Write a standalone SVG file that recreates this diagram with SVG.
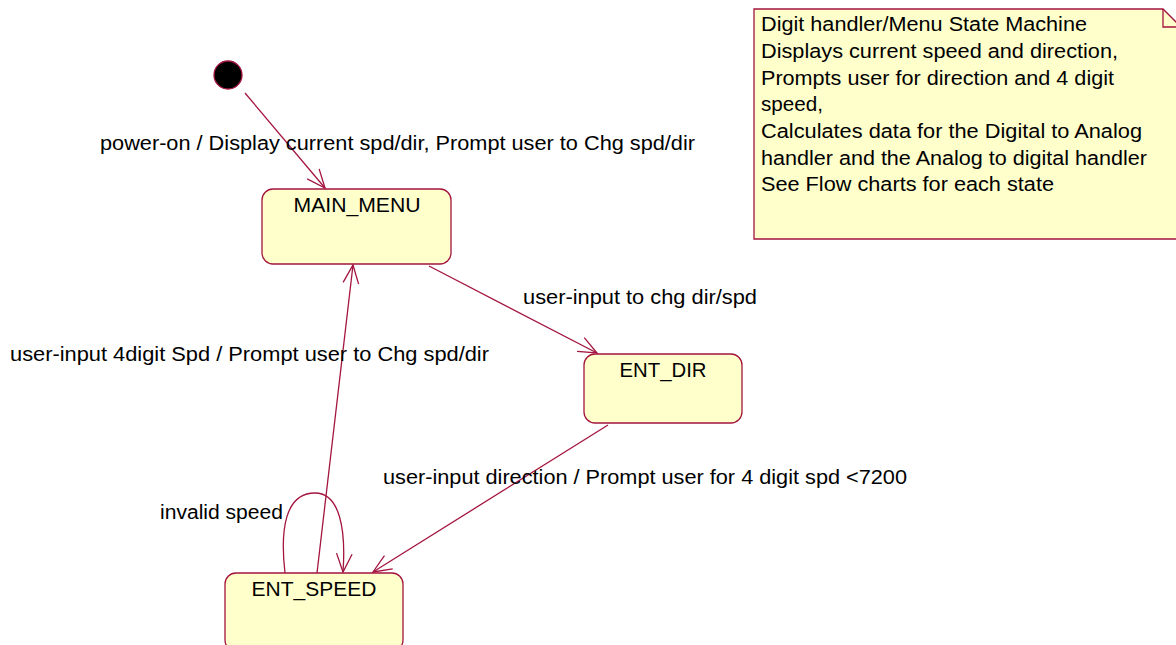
<svg xmlns="http://www.w3.org/2000/svg" width="1176" height="645" viewBox="0 0 1176 645">
<style>
.st{fill:#FFFFCC;stroke:#A3153F;stroke-width:1.3}
.ln{fill:none;stroke:#A3153F;stroke-width:1.3}
text{font-family:"Liberation Sans",Arial,sans-serif;font-size:20px;fill:#000}
.c{text-anchor:middle}
</style>
<defs>
<marker id="arr" markerUnits="userSpaceOnUse" markerWidth="22" markerHeight="18" refX="19" refY="9" orient="auto">
<path d="M0.6,1.2 L19,9 L0.6,16.8" fill="none" stroke="#A3153F" stroke-width="1.3"/>
</marker>
</defs>
<rect width="1176" height="645" fill="#fff"/>
<g id="connectors">
<line class="ln" x1="245" y1="93" x2="325" y2="188" marker-end="url(#arr)"/>
<line class="ln" x1="429" y1="266" x2="597" y2="353" marker-end="url(#arr)"/>
<line class="ln" x1="608" y1="425" x2="373" y2="572" marker-end="url(#arr)"/>
<line class="ln" x1="317" y1="573" x2="353" y2="265" marker-end="url(#arr)"/>
<path class="ln" d="M285,573 C280,530 285,493 315,493 C340,493 346,530 343,572" marker-end="url(#arr)"/>
<text x="100" y="150" textLength="595" lengthAdjust="spacingAndGlyphs">power-on / Display current spd/dir, Prompt user to Chg spd/dir</text>
<text x="523" y="304" textLength="234" lengthAdjust="spacingAndGlyphs">user-input to chg dir/spd</text>
<text x="10" y="361" textLength="479" lengthAdjust="spacingAndGlyphs">user-input 4digit Spd / Prompt user to Chg spd/dir</text>
<text x="383" y="484" textLength="524" lengthAdjust="spacingAndGlyphs">user-input direction / Prompt user for 4 digit spd &lt;7200</text>
<text x="160" y="519" textLength="123" lengthAdjust="spacingAndGlyphs">invalid speed</text>
</g>
<g id="initial">
<circle cx="228" cy="75" r="14" fill="#000" stroke="#A3153F" stroke-width="1.3"/>
</g>
<g id="main_menu">
<rect class="st" x="262" y="189" width="189" height="75" rx="11"/>
<text class="c" x="357" y="212" textLength="127" lengthAdjust="spacingAndGlyphs">MAIN_MENU</text>
</g>
<g id="ent_dir">
<rect class="st" x="584" y="354" width="158" height="69" rx="11"/>
<text class="c" x="663" y="377" textLength="87" lengthAdjust="spacingAndGlyphs">ENT_DIR</text>
</g>
<g id="ent_speed">
<rect class="st" x="225" y="573" width="178" height="78" rx="11"/>
<text class="c" x="314" y="596" textLength="125" lengthAdjust="spacingAndGlyphs">ENT_SPEED</text>
</g>
<g id="note">
<path class="st" d="M754,9 L1163,9 L1181,27 L1181,239 L754,239 Z"/>
<path class="ln" d="M1163,9 L1163,27 L1181,27"/>
<text x="761" y="31" textLength="326" lengthAdjust="spacingAndGlyphs">Digit handler/Menu State Machine</text>
<text x="761" y="58" textLength="357" lengthAdjust="spacingAndGlyphs">Displays current speed and direction,</text>
<text x="761" y="85" textLength="353" lengthAdjust="spacingAndGlyphs">Prompts user for direction and 4 digit</text>
<text x="761" y="111" textLength="62" lengthAdjust="spacingAndGlyphs">speed,</text>
<text x="761" y="138" textLength="381" lengthAdjust="spacingAndGlyphs">Calculates data for the Digital to Analog</text>
<text x="761" y="165" textLength="386" lengthAdjust="spacingAndGlyphs">handler and the Analog to digital handler</text>
<text x="761" y="191" textLength="293" lengthAdjust="spacingAndGlyphs">See Flow charts for each state</text>
</g>
</svg>
